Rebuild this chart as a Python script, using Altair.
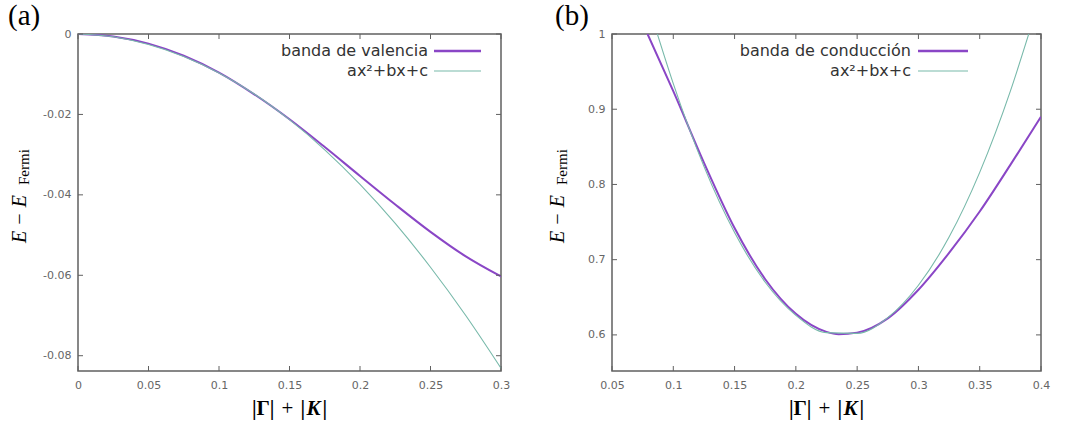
import altair as alt
import pandas as pd

# ---------------- data ----------------
# panel (a): valence band and quadratic fit
xa = [0.0, 0.025, 0.05, 0.075, 0.1, 0.125, 0.15, 0.175, 0.2, 0.225, 0.25, 0.275, 0.3]
valencia = [0.0, -0.0006, -0.0024, -0.0054, -0.0096, -0.0150, -0.0212, -0.0281,
            -0.0353, -0.0424, -0.0492, -0.0553, -0.0603]
ajuste_a = [0.0, -0.0007, -0.0026, -0.0056, -0.0097, -0.0149, -0.0213, -0.0288,
            -0.0374, -0.0471, -0.0580, -0.0700, -0.0831]

# panel (b): conduction band and quadratic fit
xb_band = [0.079, 0.1, 0.125, 0.15, 0.175, 0.2, 0.225, 0.235, 0.25, 0.275, 0.3,
           0.325, 0.35, 0.375, 0.4]
conduccion = [1.0, 0.924, 0.829, 0.742, 0.674, 0.628, 0.604, 0.601, 0.603, 0.622,
              0.660, 0.709, 0.764, 0.826, 0.890]
xb_fit = [0.087, 0.1, 0.125, 0.15, 0.175, 0.2, 0.225, 0.25, 0.275, 0.3, 0.325,
          0.35, 0.375, 0.39]
ajuste_b = [1.0, 0.934, 0.824, 0.736, 0.670, 0.626, 0.603, 0.602, 0.623, 0.666,
            0.730, 0.816, 0.924, 1.0]

xa_ticks = [0, 0.05, 0.1, 0.15, 0.2, 0.25, 0.3]
ya_ticks = [0, -0.02, -0.04, -0.06, -0.08]
xb_ticks = [0.05, 0.1, 0.15, 0.2, 0.25, 0.3, 0.35, 0.4]
yb_ticks = [0.6, 0.7, 0.8, 0.9, 1]

legend_a = ["banda de valencia", "ax²+bx+c"]
legend_b = ["banda de conducción", "ax²+bx+c"]
tags = ["(a)", "(b)"]

# ---------------- style ----------------
PURPLE = "#8a46c6"
TEAL = "#78b9aa"
FRAME = "#606060"
LABEL = "#666666"
SANS = "DejaVu Sans"
SERIF = "Liberation Serif"
H = 337


def panel(xs_band, ys_band, xs_fit, ys_fit, xdom, ydom, xticks, yticks,
          labels, tag, W, leg_text_x, leg_line, tag_x, ytitle_x):
    xs = alt.Scale(domain=xdom, nice=False, zero=False)
    ys = alt.Scale(domain=ydom, nice=False, zero=False)
    xax = alt.Axis(values=xticks, labelExpr="datum.value + ''", domain=False,
                   ticks=False, grid=False, title=None, labelFont=SANS,
                   labelFontSize=11, labelColor=LABEL, labelPadding=8,
                   labelFlush=False)
    yax = alt.Axis(values=yticks, labelExpr="datum.value + ''", domain=False,
                   ticks=False, grid=False, title=None, labelFont=SANS,
                   labelFontSize=11, labelColor=LABEL, labelPadding=7,
                   labelFlush=False)
    X = alt.X("x:Q", scale=xs, axis=xax)
    Y = alt.Y("y:Q", scale=ys, axis=yax)

    band = alt.Chart(pd.DataFrame({"x": xs_band, "y": ys_band})).mark_line(
        color=PURPLE, strokeWidth=2, interpolate="monotone", clip=True
    ).encode(x=X, y=Y)
    fit = alt.Chart(pd.DataFrame({"x": xs_fit, "y": ys_fit})).mark_line(
        color=TEAL, strokeWidth=1.1, interpolate="monotone", clip=True
    ).encode(x=X, y=Y)

    xt = pd.DataFrame({"x": xticks})
    yt = pd.DataFrame({"y": yticks})
    tick_b = alt.Chart(xt).mark_rule(color=FRAME, strokeWidth=1).encode(
        x=X, y=alt.value(H), y2=alt.value(H - 5))
    tick_t = alt.Chart(xt).mark_rule(color=FRAME, strokeWidth=1).encode(
        x=X, y=alt.value(0), y2=alt.value(5))
    tick_l = alt.Chart(yt).mark_rule(color=FRAME, strokeWidth=1).encode(
        y=Y, x=alt.value(0), x2=alt.value(5))
    tick_r = alt.Chart(yt).mark_rule(color=FRAME, strokeWidth=1).encode(
        y=Y, x=alt.value(W), x2=alt.value(W - 5))

    layers = [band, fit, tick_b, tick_t, tick_l, tick_r]

    # legend (key box top right)
    for i, (lab, col, sw) in enumerate(zip(labels, [PURPLE, TEAL], [2.5, 1.1])):
        yy = 17 + 20 * i
        layers.append(alt.Chart().mark_text(
            text=lab, font=SANS, fontSize=16, color="#333333", align="right",
            baseline="middle").encode(x=alt.value(leg_text_x), y=alt.value(yy)))
        layers.append(alt.Chart().mark_rule(color=col, strokeWidth=sw).encode(
            x=alt.value(leg_line[0]), x2=alt.value(leg_line[1]), y=alt.value(yy)))

    # panel tag
    layers.append(alt.Chart().mark_text(
        text=tag, font=SERIF, fontSize=29, align="left", baseline="alphabetic",
        color="#000000").encode(x=alt.value(tag_x), y=alt.value(-9)))

    # y title: E - E_Fermi (rotated, reads bottom to top)
    layers.append(alt.Chart().mark_text(
        text="E  −  E", font=SERIF, fontStyle="italic", fontSize=20, angle=270,
        align="left", baseline="alphabetic", color="#000000").encode(
        x=alt.value(ytitle_x), y=alt.value(209)))
    layers.append(alt.Chart().mark_text(
        text="Fermi", font=SERIF, fontSize=15, angle=270, align="left",
        baseline="alphabetic", color="#000000").encode(
        x=alt.value(ytitle_x + 3), y=alt.value(151)))

    # x title: |Γ| + |K|
    cx = W / 2
    ty = H + 38
    layers.append(alt.Chart().mark_text(
        text="|Γ|", font=SERIF, fontWeight="bold", fontSize=21, align="right",
        baseline="middle", color="#000000").encode(
        x=alt.value(cx - 15), y=alt.value(ty)))
    layers.append(alt.Chart().mark_text(
        text="+", font=SERIF, fontSize=21, align="center",
        baseline="middle", color="#000000").encode(
        x=alt.value(cx - 2), y=alt.value(ty)))
    layers.append(alt.Chart().mark_text(
        text="|", font=SERIF, fontWeight="bold", fontSize=21, align="left",
        baseline="middle", color="#000000").encode(
        x=alt.value(cx + 11), y=alt.value(ty)))
    layers.append(alt.Chart().mark_text(
        text="K", font=SERIF, fontWeight="bold", fontStyle="italic", fontSize=21,
        align="left", baseline="middle", color="#000000").encode(
        x=alt.value(cx + 17), y=alt.value(ty)))
    layers.append(alt.Chart().mark_text(
        text="|", font=SERIF, fontWeight="bold", fontSize=21, align="left",
        baseline="middle", color="#000000").encode(
        x=alt.value(cx + 33), y=alt.value(ty)))

    return alt.layer(*layers).properties(width=W, height=H)


pa = panel(xa, valencia, xa, ajuste_a, [0, 0.3], [-0.0838, 0], xa_ticks, ya_ticks,
           legend_a, tags[0], 423, 350, (356, 403), -70, -52)
# invisible anchor fixing the top-left corner of the whole figure
anchor = alt.Chart().mark_rule(opacity=0, strokeWidth=0).encode(
    x=alt.value(-77), y=alt.value(-33), x2=alt.value(-77), y2=alt.value(-33))
pa = alt.layer(pa, anchor)

pb = panel(xb_band, conduccion, xb_fit, ajuste_b, [0.05, 0.4], [0.552, 1.0],
           xb_ticks, yb_ticks, legend_b, tags[1], 429, 299, (306, 356), -57, -48)

chart = alt.hconcat(pa, pb, spacing=111, bounds="flush").properties(
    padding=0, background="white"
).configure_view(stroke=FRAME, strokeWidth=1.5).configure_concat(spacing=111)

chart.save("out.html", embed_options={"renderer": "svg", "actions": False})
